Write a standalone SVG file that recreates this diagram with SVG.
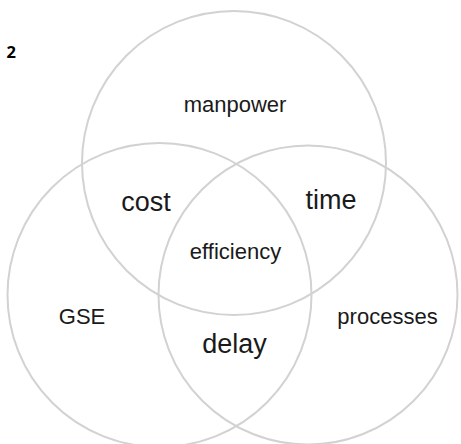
<svg xmlns="http://www.w3.org/2000/svg" width="461" height="444" viewBox="0 0 461 444">
<style>
.c{fill:none;stroke:#d2d2d2;stroke-width:2}
.s{font-family:"Liberation Sans",Arial,sans-serif;font-size:22px;fill:#1a1a1a;text-anchor:middle}
.b{font-family:"Liberation Sans",Arial,sans-serif;font-size:27px;fill:#1a1a1a;text-anchor:middle}
</style>
<rect width="461" height="444" fill="#fff"/>
<text x="6.5" y="57.5" font-family="'Open Sans','Liberation Sans',sans-serif" font-weight="bold" font-size="16.5" fill="#000">2</text>
<g id="circle-manpower"><circle class="c" cx="234" cy="163" r="152"/></g>
<g id="circle-gse"><circle class="c" cx="159.5" cy="295" r="152"/></g>
<g id="circle-processes"><circle class="c" cx="308" cy="295" r="149.5"/></g>
<g id="labels">
<text class="s" x="235" y="112">manpower</text>
<text class="b" x="146" y="211">cost</text>
<text class="b" x="331" y="209">time</text>
<text class="s" x="235.5" y="259">efficiency</text>
<text class="s" x="82" y="324">GSE</text>
<text class="s" x="387.5" y="324">processes</text>
<text class="b" x="234.5" y="353">delay</text>
</g>
</svg>
